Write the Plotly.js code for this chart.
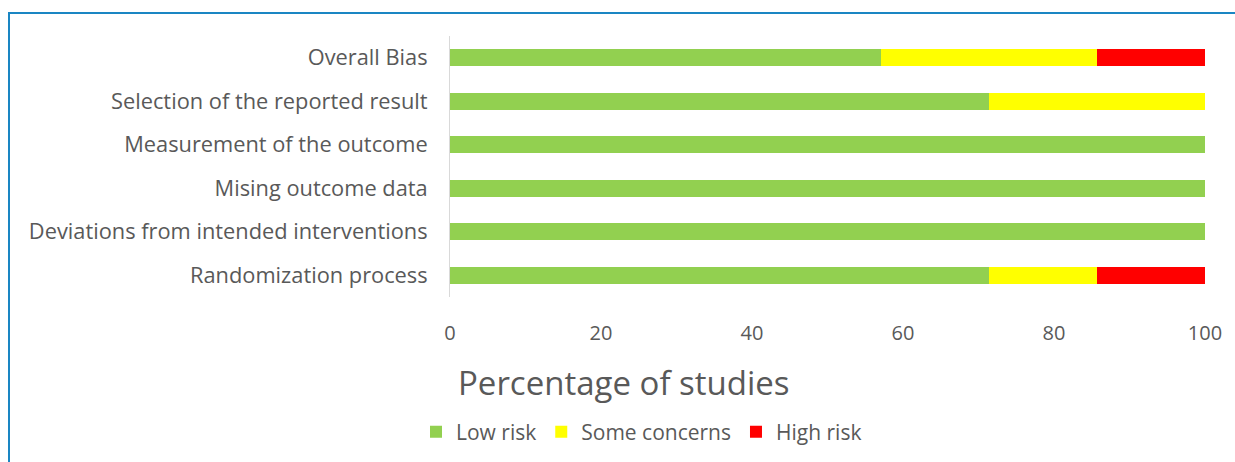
<!DOCTYPE html>
<html>
<head>
<meta charset="utf-8">
<script src="https://cdn.plot.ly/plotly-3.0.1.min.js"></script>
<style>
  html, body { margin: 0; padding: 0; background: #ffffff; }
  #wrap { position: relative; width: 1235px; height: 462px; overflow: hidden; }
  #chart { position: absolute; left: 0; top: 0; width: 1235px; height: 462px; }
  #frame {
    position: absolute; left: 8px; top: 12px; right: -4px; bottom: -4px;
    border-top: 2px solid #1a86c3; border-left: 2px solid #1a86c3;
    pointer-events: none;
  }
</style>
</head>
<body>
<div id="wrap">
  <div id="chart"></div>
  <div id="frame"></div>
</div>
<script>
// Risk-of-bias domains, listed bottom to top as they appear on the y axis
const domains = [
  "Randomization process",
  "Deviations from intended interventions",
  "Mising outcome data",
  "Measurement of the outcome",
  "Selection of the reported result",
  "Overall Bias"
];

// Percentage of studies in each judgement (7 studies)
const lowRisk      = [71.43, 100, 100, 100, 71.43, 57.14];
const someConcerns = [14.29,   0,   0,   0, 28.57, 28.57];
const highRisk     = [14.29,   0,   0,   0,     0, 14.29];

const seriesNames  = ["Low risk", "Some concerns", "High risk"];
const seriesColors = ["#92d050", "#ffff00", "#ff0000"];
const xTicks = [0, 20, 40, 60, 80, 100];

const font = "'Open Sans', 'Liberation Sans', sans-serif";
const grey = "#595959";

const traces = [lowRisk, someConcerns, highRisk].map((vals, i) => ({
  type: "bar",
  orientation: "h",
  name: seriesNames[i],
  y: domains,
  x: vals,
  marker: { color: seriesColors[i], line: { width: 0 } },
  hoverinfo: "name+x"
}));

const layout = {
  width: 1235,
  height: 462,
  barmode: "stack",
  bargap: 0.6,
  paper_bgcolor: "#ffffff",
  plot_bgcolor: "#ffffff",
  margin: { l: 450, r: 30, t: 36, b: 165, pad: 0 },
  font: { family: font, color: grey, size: 21 },
  xaxis: {
    range: [0, 100],
    tickvals: xTicks,
    ticktext: xTicks.map(String),
    showgrid: false,
    zeroline: false,
    showline: false,
    ticks: "",
    ticklen: 0,
    ticklabelstandoff: 22,
    tickfont: { family: font, size: 20, color: grey },
    automargin: false
  },
  yaxis: {
    type: "category",
    categoryorder: "array",
    categoryarray: domains,
    showgrid: false,
    zeroline: false,
    showline: true,
    linecolor: "#d9d9d9",
    linewidth: 1,
    ticks: "",
    ticklabelstandoff: 17,
    tickfont: { family: font, size: 21.8, color: grey },
    automargin: false
  },
  title: {
    text: "Percentage of studies",
    xref: "container",
    yref: "container",
    x: 458 / 1235,
    y: 1 - 383 / 462,
    xanchor: "left",
    yanchor: "middle",
    font: { family: font, size: 33, color: grey }
  },
  showlegend: true,
  legend: {
    orientation: "h",
    xref: "container",
    yref: "container",
    x: 416 / 1235,
    y: 1 - 432 / 462,
    xanchor: "left",
    yanchor: "middle",
    traceorder: "normal",
    font: { family: font, size: 21, color: grey },
    bgcolor: "rgba(0,0,0,0)"
  }
};

Plotly.newPlot("chart", traces, layout, { displayModeBar: false, staticPlot: true });
</script>
</body>
</html>
